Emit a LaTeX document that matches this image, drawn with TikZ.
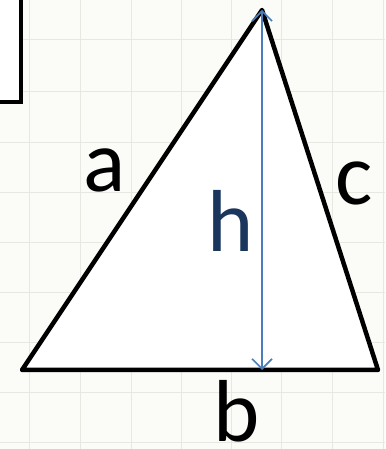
\documentclass[tikz,border=0pt]{standalone}
\usepackage{fontspec}
\setmainfont{Carlito}
\usetikzlibrary{arrows.meta}
\definecolor{bgc}{HTML}{FBFBF7}
\definecolor{gridc}{HTML}{E8E8E2}
\definecolor{arrc}{HTML}{4A7EBB}
\definecolor{hc}{HTML}{1B365D}
\tikzset{
  lbl/.style={font=\fontsize{88}{88}\selectfont, inner sep=0pt, anchor=base},
  tri/.style={line width=4.5pt, line join=round, line cap=round},
  hline/.style={draw=arrc, line width=1.6pt, {Straight Barb[length=10pt,width=20pt,line width=1.6pt]}-{Straight Barb[length=10pt,width=20pt,line width=1.6pt]}},
  gridline/.style={draw=gridc, line width=1pt}
}
\begin{document}
\begin{tikzpicture}[x=1pt,y=1pt]
\fill[bgc] (0,0) rectangle (385,449);
\useasboundingbox (0,0) rectangle (385,449);
% grid
\foreach \x in {29,80,131,181,231,281,332,383} \draw[gridline] (\x,0) -- (\x,449);
\foreach \y in {6,56,106,156,206,256,306,357,409} \draw[gridline] (0,\y) -- (385,\y);
% box at top-left
\fill[white] (0,347) rectangle (21,449);
\draw[line width=4.5pt] (21,452) -- (21,347) -- (-3,347);
% triangle
\coordinate (A) at (22,79);
\coordinate (B) at (378,79);
\coordinate (C) at (262,439);
\coordinate (F) at (262,79);
\fill[white] (A) -- (B) -- (C) -- cycle;
\draw[tri] (A) -- (B) -- (C) -- cycle;
\draw[hline] (C) -- (F);
% labels
\node[lbl] (a) at (105,257) {a};
\node[lbl] (c) at (354,244) {c};
\node[lbl,text=hc] (h) at (231,197) {h};
\node[lbl] (b) at (237,7) {b};
\end{tikzpicture}
\end{document}
